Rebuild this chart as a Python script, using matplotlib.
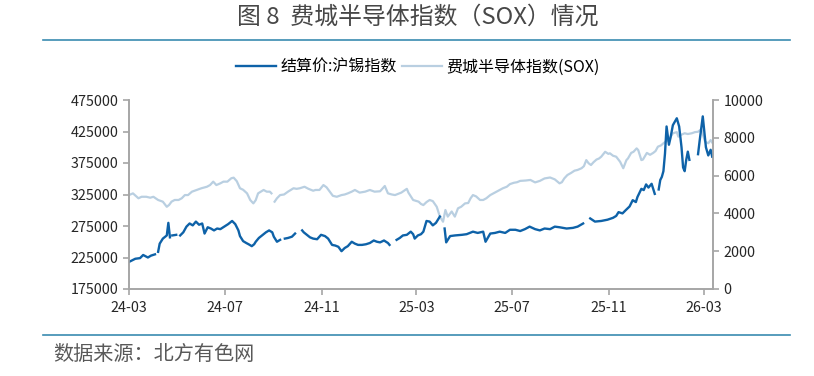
import numpy as np
import pandas as pd
import matplotlib
matplotlib.use('Agg')
import matplotlib.pyplot as plt
import matplotlib.dates as mdates

plt.rcParams['font.family'] = ['Noto Sans CJK SC', 'DejaVu Sans']

## data -----
# 结算价:沪锡指数 (left axis), nan = break in the line
tin_dates = ['2024-03-01', '2024-03-09', '2024-03-15', '2024-03-19', '2024-03-25', '2024-03-29', '2024-04-03',
             '2024-04-05',
             '2024-04-07', '2024-04-09', '2024-04-13', '2024-04-18', '2024-04-20', '2024-04-22',
             '2024-04-23',
             '2024-04-25', '2024-04-30',
             '2024-05-02',
             '2024-05-05', '2024-05-09', '2024-05-13', '2024-05-17', '2024-05-21', '2024-05-25', '2024-05-29',
             '2024-06-02', '2024-06-05', '2024-06-09', '2024-06-13', '2024-06-17', '2024-06-21', '2024-06-25',
             '2024-06-30', '2024-07-05', '2024-07-10', '2024-07-14', '2024-07-18', '2024-07-20', '2024-07-24',
             '2024-07-28', '2024-07-31', '2024-08-04', '2024-08-07', '2024-08-09', '2024-08-13', '2024-08-17',
             '2024-08-22', '2024-08-26', '2024-08-30', '2024-09-01', '2024-09-05', '2024-09-09',
             '2024-09-12',
             '2024-09-15', '2024-09-19', '2024-09-24', '2024-09-28',
             '2024-10-03',
             '2024-10-07', '2024-10-09', '2024-10-13', '2024-10-17', '2024-10-21', '2024-10-26', '2024-10-31',
             '2024-11-05', '2024-11-09', '2024-11-14', '2024-11-18', '2024-11-22', '2024-11-26', '2024-11-30',
             '2024-12-04', '2024-12-09', '2024-12-13', '2024-12-17', '2024-12-22', '2024-12-27', '2025-01-01',
             '2025-01-06', '2025-01-10', '2025-01-14', '2025-01-19', '2025-01-24', '2025-01-26',
             '2025-01-30',
             '2025-02-04', '2025-02-08', '2025-02-12', '2025-02-17', '2025-02-22', '2025-02-25', '2025-02-27',
             '2025-03-03', '2025-03-07', '2025-03-10', '2025-03-14', '2025-03-18', '2025-03-22', '2025-03-26',
             '2025-03-31',
             '2025-04-03',
             '2025-04-06', '2025-04-08', '2025-04-13', '2025-04-19', '2025-04-28', '2025-05-04', '2025-05-12',
             '2025-05-18', '2025-05-25', '2025-05-28', '2025-06-03', '2025-06-09', '2025-06-15', '2025-06-22',
             '2025-06-28', '2025-07-05', '2025-07-11', '2025-07-17', '2025-07-23', '2025-07-30', '2025-08-05',
             '2025-08-11', '2025-08-18', '2025-08-24', '2025-08-30', '2025-09-08', '2025-09-16', '2025-09-22',
             '2025-09-29',
             '2025-10-04',
             '2025-10-08', '2025-10-14', '2025-10-22', '2025-10-30', '2025-11-06', '2025-11-10', '2025-11-13',
             '2025-11-18', '2025-11-22', '2025-11-27', '2025-12-01', '2025-12-05', '2025-12-07', '2025-12-12',
             '2025-12-15', '2025-12-18', '2025-12-21', '2025-12-25', '2025-12-26', '2025-12-29',
             '2025-12-31',
             '2026-01-03', '2026-01-05', '2026-01-07', '2026-01-09', '2026-01-11', '2026-01-13', '2026-01-16',
             '2026-01-18', '2026-01-21', '2026-01-26', '2026-01-29', '2026-02-01', '2026-02-03', '2026-02-05',
             '2026-02-07', '2026-02-09', '2026-02-11',
             '2026-02-16',
             '2026-02-22', '2026-02-24', '2026-02-28', '2026-03-02', '2026-03-04', '2026-03-07', '2026-03-10',
             '2026-03-12']
tin_values = [218000, 223000, 224000, 229000, 225000, 228000, 230000,
              np.nan,
              234000, 247000, 255000, 260000, 280000, 257000,
              np.nan,
              260000, 261000,
              np.nan,
              260000, 265000, 274000, 279000, 276000, 282000, 277000,
              279000, 263000, 273000, 271000, 268000, 271000, 270000,
              274000, 278000, 283000, 278000, 268000, 259000, 251000,
              248000, 246000, 243000, 246000, 250000, 256000, 260000,
              265000, 268000, 265000, 258000, 250000, 253000,
              np.nan,
              255000, 256000, 258000, 263000,
              np.nan,
              268000, 265000, 261000, 257000, 255000, 254000, 261000,
              259000, 255000, 245000, 244000, 242000, 235000, 240000,
              243000, 250000, 247000, 245000, 245000, 246000, 248000,
              252000, 250000, 249000, 252000, 248000, 245000,
              np.nan,
              253000, 256000, 260000, 261000, 266000, 262000, 255000,
              260000, 262000, 266000, 283000, 282000, 276000, 280000,
              290000,
              np.nan,
              271000, 249000, 259000, 260000, 261000, 262000, 266000,
              264000, 266000, 250000, 263000, 264000, 266000, 264000,
              269000, 269000, 267000, 270000, 274000, 270000, 268000,
              271000, 270000, 274000, 273000, 271000, 272000, 274000,
              279000,
              np.nan,
              287000, 282000, 283000, 285000, 288000, 291000, 297000,
              295000, 300000, 306000, 316000, 313000, 321000, 334000,
              332000, 341000, 336000, 342000, 338000, 326000,
              np.nan,
              333000, 348000, 353000, 362000, 390000, 433000, 404000,
              415000, 435000, 446000, 433000, 400000, 368000, 362000,
              380000, 393000, 380000,
              np.nan,
              389000, 410000, 449000, 425000, 400000, 387000, 396000,
              385000]

# 费城半导体指数(SOX) (right axis)
sox_dates = ['2024-03-01', '2024-03-06', '2024-03-13', '2024-03-17', '2024-03-23', '2024-03-28', '2024-04-01',
             '2024-04-07', '2024-04-13', '2024-04-18', '2024-04-21', '2024-04-24', '2024-04-28', '2024-05-03',
             '2024-05-07', '2024-05-11', '2024-05-15', '2024-05-20', '2024-05-26', '2024-06-01', '2024-06-08',
             '2024-06-12', '2024-06-16', '2024-06-20', '2024-06-25', '2024-06-29', '2024-07-04', '2024-07-09',
             '2024-07-12', '2024-07-16', '2024-07-20', '2024-07-24', '2024-07-29', '2024-08-02', '2024-08-06',
             '2024-08-09', '2024-08-12', '2024-08-19', '2024-08-23', '2024-08-27', '2024-08-29',
             '2024-08-31',
             '2024-09-02', '2024-09-05', '2024-09-09', '2024-09-14', '2024-09-19', '2024-09-26', '2024-09-30',
             '2024-10-04', '2024-10-10', '2024-10-15', '2024-10-21', '2024-10-24', '2024-10-29', '2024-11-03',
             '2024-11-07', '2024-11-11', '2024-11-15', '2024-11-20', '2024-11-26', '2024-11-30', '2024-12-04',
             '2024-12-09', '2024-12-13', '2024-12-19', '2024-12-26', '2025-01-01', '2025-01-07', '2025-01-14',
             '2025-01-20', '2025-01-24', '2025-01-29', '2025-02-02', '2025-02-07', '2025-02-10', '2025-02-17',
             '2025-02-19', '2025-02-22', '2025-02-25', '2025-03-04', '2025-03-07', '2025-03-10', '2025-03-14',
             '2025-03-18', '2025-03-22', '2025-03-27', '2025-03-31', '2025-04-04', '2025-04-07', '2025-04-10',
             '2025-04-15', '2025-04-19', '2025-04-23', '2025-04-27', '2025-05-02', '2025-05-06', '2025-05-09',
             '2025-05-12', '2025-05-16', '2025-05-21', '2025-05-25', '2025-05-29', '2025-06-03', '2025-06-07',
             '2025-06-11', '2025-06-15', '2025-06-19', '2025-06-24', '2025-06-28', '2025-07-03', '2025-07-07',
             '2025-07-11', '2025-07-18', '2025-07-24', '2025-07-30', '2025-08-05', '2025-08-11', '2025-08-18',
             '2025-08-24', '2025-08-30', '2025-09-02', '2025-09-05', '2025-09-09', '2025-09-14', '2025-09-18',
             '2025-09-22', '2025-09-27', '2025-09-30', '2025-10-03', '2025-10-06', '2025-10-09', '2025-10-12',
             '2025-10-16', '2025-10-19', '2025-10-22', '2025-10-27', '2025-10-31', '2025-11-02', '2025-11-06',
             '2025-11-10', '2025-11-15', '2025-11-19', '2025-11-23', '2025-11-25', '2025-11-29', '2025-12-02',
             '2025-12-06', '2025-12-08', '2025-12-12', '2025-12-14', '2025-12-19', '2025-12-23', '2025-12-27',
             '2025-12-30', '2026-01-02', '2026-01-06', '2026-01-09', '2026-01-12', '2026-01-15', '2026-01-17',
             '2026-01-21', '2026-01-26', '2026-01-28', '2026-01-31', '2026-02-05', '2026-02-09', '2026-02-14',
             '2026-02-18', '2026-02-22', '2026-02-26', '2026-03-01', '2026-03-03', '2026-03-07', '2026-03-10',
             '2026-03-12']
sox_values = [4970, 5060, 4800, 4880, 4880, 4830, 4880,
              4710, 4620, 4350, 4450, 4620, 4710, 4710,
              4800, 4970, 4970, 5150, 5240, 5330, 5410,
              5500, 5680, 5500, 5590, 5680, 5680, 5860,
              5890, 5700, 5330, 5250, 5060, 4710, 4530,
              4700, 5060, 5240, 5150, 5150, 5060,
              np.nan,
              4620, 4800, 4970, 5000, 5150, 5330, 5300,
              5330, 5410, 5300, 5200, 5240, 5240, 5500,
              5380, 5150, 4930, 4880, 4970, 5000, 5060,
              5150, 5240, 5100, 5150, 5240, 5150, 5170,
              5450, 5060, 5000, 4970, 5050, 5100, 5300,
              5100, 4900, 4710, 4620, 4500, 4440, 4600,
              4710, 4650, 4350, 3830, 3560, 4180, 3830,
              4100, 3830, 4270, 4350, 4530, 4550, 4800,
              4970, 4900, 4710, 4710, 4800, 4970, 5060,
              5150, 5240, 5330, 5410, 5550, 5620, 5650,
              5720, 5740, 5770, 5640, 5720, 5850, 5900,
              5800, 5590, 5650, 5850, 6030, 6150, 6260,
              6300, 6390, 6500, 6820, 6650, 6560, 6700,
              6850, 6900, 7000, 7260, 7150, 7180, 7050,
              7000, 6730, 6390, 6820, 6910, 7200, 7260,
              7440, 7350, 6820, 6850, 7200, 7100, 7200,
              7300, 7530, 7600, 7710, 7800, 7880, 7970,
              8240, 8300, 8060, 8150, 8240, 8200, 8240,
              8300, 8320, 8450, 8060, 7790, 7710, 7880,
              7750]

tick_dates = ['2024-03-01', '2024-07-01', '2024-11-01', '2025-03-01', '2025-07-01', '2025-11-01', '2026-03-01']
left_ticks = [175000, 225000, 275000, 325000, 375000, 425000, 475000]
right_ticks = [0, 2000, 4000, 6000, 8000, 10000]

tin = pd.Series(tin_values, index=pd.to_datetime(tin_dates))
sox = pd.Series(sox_values, index=pd.to_datetime(sox_dates))

## figure -----
fig = plt.figure(figsize=(8.14, 3.76), dpi=100)
ax = fig.add_axes([129 / 814, 1 - 289 / 376, (713 - 129) / 814, (289 - 100) / 376])
ax2 = ax.twinx()

spine_c = '#a6a6a6'
txt_c = '#262626'

l2, = ax2.plot(sox.index, sox.values, color='#b9cfe1', lw=1.6, label='费城半导体指数(SOX)')
l1, = ax.plot(tin.index, tin.values, color='#0e62a8', lw=1.7, label='结算价:沪锡指数')
ax.set_zorder(ax2.get_zorder() + 1)
ax.patch.set_visible(False)

ax.set_xlim(pd.Timestamp('2024-03-01'), pd.Timestamp('2026-03-13'))
ax.set_ylim(175000, 475000)
ax2.set_ylim(0, 10000)
ax.set_yticks(left_ticks)
ax2.set_yticks(right_ticks)
ax.set_xticks(pd.to_datetime(tick_dates))
ax.xaxis.set_major_formatter(mdates.DateFormatter('%y-%m'))

for a in (ax, ax2):
    a.spines['top'].set_visible(False)
    for s in ('left', 'right', 'bottom'):
        a.spines[s].set_color(spine_c)
        a.spines[s].set_linewidth(1.2)
    a.tick_params(axis='both', colors=spine_c, labelcolor=txt_c, labelsize=10.3, length=4, width=1.2)
ax.tick_params(axis='x', pad=5, labelsize=10.3)

# title, rules and source
fig.text(418 / 814, 1 - 17 / 376, '图 8  费城半导体指数（SOX）情况', ha='center', va='center',
         fontsize=17.2, color='#474747')
fig.add_artist(plt.Line2D([43 / 814, 790 / 814], [1 - 40 / 376] * 2, color='#3a8bb0', lw=1.2))
fig.add_artist(plt.Line2D([43 / 814, 790 / 814], [1 - 335 / 376] * 2, color='#3a8bb0', lw=1.2))
fig.text(53 / 814, 1 - 354 / 376, '数据来源：北方有色网', ha='left', va='center', fontsize=14.5, color='#595959')

fig.legend(handles=[l1, l2], loc='center', bbox_to_anchor=(418 / 814, 1 - 67 / 376), ncol=2, frameon=False,
           fontsize=11.5, handlelength=2.5, columnspacing=0.3, handletextpad=0.3)

fig.savefig('out.png', dpi=100)
